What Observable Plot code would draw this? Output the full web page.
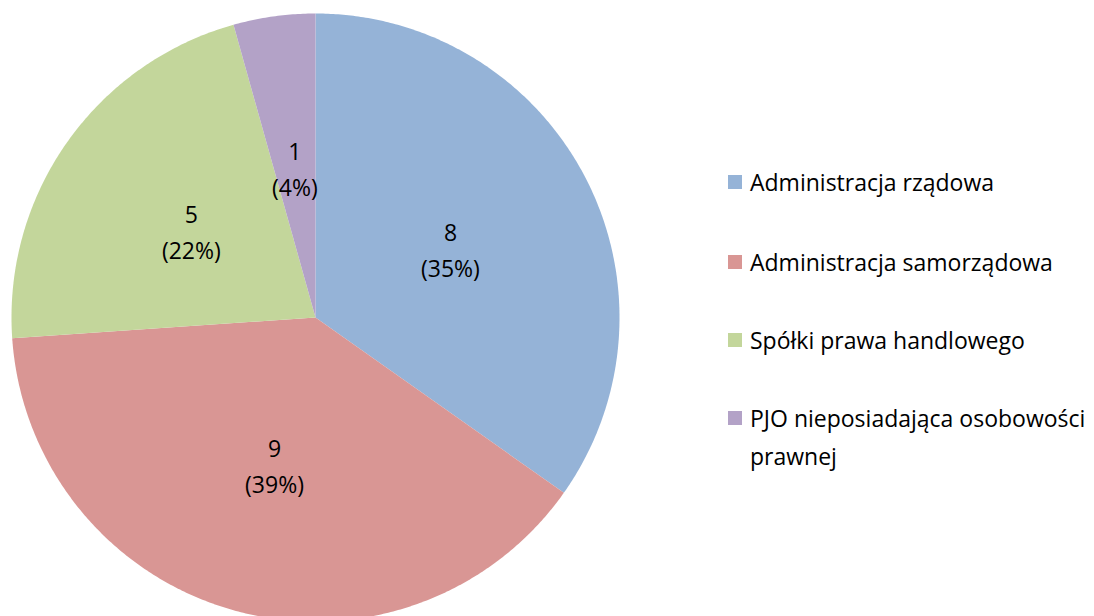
<!DOCTYPE html>
<html>
<head>
<meta charset="utf-8">
<script src="https://cdn.jsdelivr.net/npm/d3@7"></script>
<script src="https://cdn.jsdelivr.net/npm/@observablehq/plot@0.6"></script>
<style>
  html, body { margin: 0; padding: 0; background: #fff; }
  #wrap { position: relative; width: 1094px; height: 616px; overflow: hidden; font-family: "Open Sans", sans-serif; }
  #legend { position: absolute; left: 728px; top: 0; width: 366px; color: #000; font-size: 23px; }
  .item { position: absolute; left: 0; display: flex; align-items: flex-start; line-height: 38px; }
  .sw { width: 14px; height: 14px; margin-top: 12px; margin-right: 8px; flex: none; }
  .lbl { width: 344px; }
</style>
</head>
<body>
<div id="wrap"><div id="chart"></div><div id="legend"></div></div>
<script>
const categories = ["Administracja rządowa", "Administracja samorządowa", "Spółki prawa handlowego", "PJO nieposiadająca osobowości prawnej"];
const values = [8, 9, 5, 1];
const colors = ["#95B3D7", "#D99694", "#C3D69B", "#B3A2C7"];

const W = 1094, H = 616;
const cx = 315, cy = 317, R = 304;
const total = d3.sum(values);
const arcs = d3.pie().sort(null).value(d => d)(values);

const pts = [];
arcs.forEach((a, i) => {
  const cat = categories[i];
  pts.push({cat, x: cx, y: cy});
  const n = Math.max(2, Math.ceil((a.endAngle - a.startAngle) * 120));
  for (let k = 0; k <= n; k++) {
    const t = a.startAngle + (a.endAngle - a.startAngle) * k / n;
    pts.push({cat, x: cx + R * Math.sin(t), y: cy - R * Math.cos(t)});
  }
  pts.push({cat, x: cx, y: cy});
});

const labels = arcs.map((a, i) => {
  const m = (a.startAngle + a.endAngle) / 2;
  return {
    x: cx + R * 0.5 * Math.sin(m),
    y: cy - R * 0.5 * Math.cos(m),
    text: `${values[i]}\n(${Math.round(values[i] / total * 100)}%)`
  };
});

const chart = Plot.plot({
  width: W, height: H, margin: 0,
  style: {fontFamily: "'Open Sans', sans-serif", background: "white"},
  x: {domain: [0, W], range: [0, W], axis: null},
  y: {domain: [0, H], range: [0, H], axis: null},
  color: {domain: categories, range: colors},
  marks: [
    Plot.line(pts, {x: "x", y: "y", z: "cat", fill: "cat", stroke: "none", curve: "linear"}),
    Plot.text(labels, {x: "x", y: "y", text: "text", fontSize: 23, lineHeight: 1.56, fill: "black"})
  ]
});
document.getElementById("chart").appendChild(chart);

const legend = document.getElementById("legend");
const tops = [163, 243, 321, 399];
categories.forEach((c, i) => {
  const it = document.createElement("div");
  it.className = "item";
  it.style.top = tops[i] + "px";
  const sw = document.createElement("div");
  sw.className = "sw";
  sw.style.background = colors[i];
  const lb = document.createElement("div");
  lb.className = "lbl";
  lb.textContent = c;
  it.appendChild(sw); it.appendChild(lb);
  legend.appendChild(it);
});
</script>
</body>
</html>
